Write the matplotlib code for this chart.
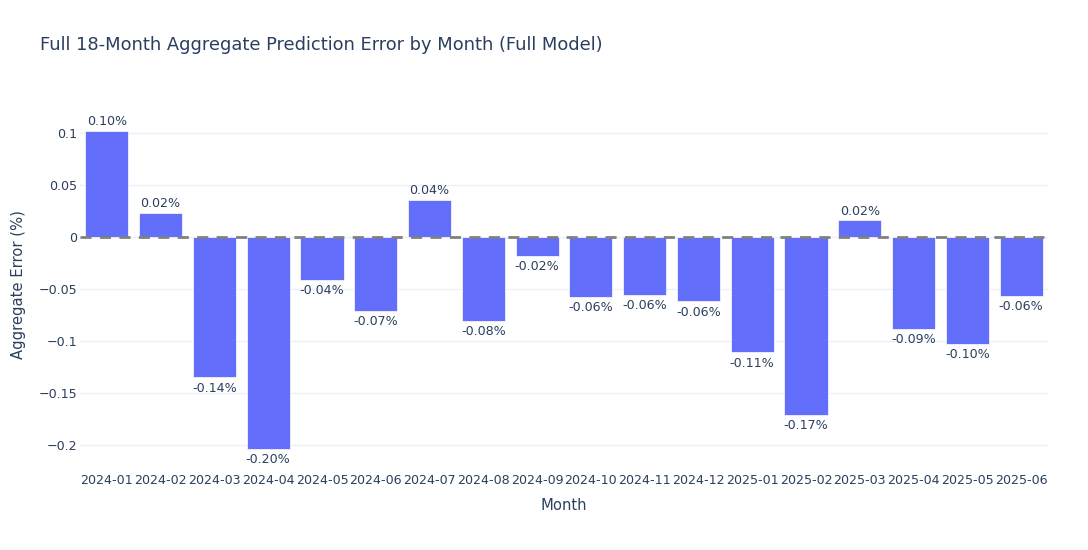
import matplotlib
matplotlib.use("Agg")
import matplotlib.pyplot as plt
from matplotlib.ticker import FixedLocator

months = ["2024-01", "2024-02", "2024-03", "2024-04", "2024-05", "2024-06",
          "2024-07", "2024-08", "2024-09", "2024-10", "2024-11", "2024-12",
          "2025-01", "2025-02", "2025-03", "2025-04", "2025-05", "2025-06"]
errors = [0.102, 0.023, -0.135, -0.204, -0.041, -0.071,
          0.036, -0.081, -0.018, -0.058, -0.056, -0.062,
          -0.111, -0.171, 0.016, -0.088, -0.103, -0.057]
yticks = [0.1, 0.05, 0, -0.05, -0.1, -0.15, -0.2]
ytick_labels = ["0.1", "0.05", "0", "\u22120.05", "\u22120.1", "\u22120.15", "\u22120.2"]

TXT = "#2a3f5f"
BAR = "#636efa"
GRID = "#ebf0f8"
px = 72 / 100 * 1.05

plt.rcParams['font.family'] = ['DejaVu Sans']
fig = plt.figure(figsize=(10.88, 5.5), dpi=100)
ax = fig.add_axes([80 / 1088, 80 / 550, 968 / 1088, 370 / 550])

x = list(range(len(months)))
ax.bar(x, errors, width=0.8, color=BAR, edgecolor="white", linewidth=0.5, zorder=2)
ax.axhline(0, color="#808080", linestyle=(0, (4, 3)), linewidth=2, zorder=3)

for xi, v in zip(x, errors):
    lab = f"{v:.2f}%"
    if v >= 0:
        ax.annotate(lab, (xi, v), xytext=(0, 2), textcoords="offset points",
                    ha="center", va="bottom", fontsize=12 * px, color=TXT)
    else:
        ax.annotate(lab, (xi, v), xytext=(0, -3), textcoords="offset points",
                    ha="center", va="top", fontsize=12 * px, color=TXT)

ax.set_xlim(-0.5, len(months) - 0.5)
ax.set_ylim(-0.224, 0.1317)
ax.set_xticks(x)
ax.set_xticklabels(months)
ax.yaxis.set_major_locator(FixedLocator(yticks))
ax.set_yticklabels(ytick_labels)
ax.tick_params(axis="both", length=0, labelsize=12 * px, labelcolor=TXT)
ax.tick_params(axis="x", pad=3)
ax.tick_params(axis="y", pad=2)
ax.grid(axis="y", color=GRID, linewidth=1, zorder=0)
ax.set_axisbelow(True)
for s in ax.spines.values():
    s.set_visible(False)

ax.set_xlabel("Month", fontsize=14 * px, color=TXT, va="center")
ax.xaxis.set_label_coords(0.5, -(505 - 470) / 370)
ax.set_ylabel("Aggregate Error (%)", fontsize=14 * px, color=TXT, va="center")
ax.yaxis.set_label_coords(-(80 - 18) / 968, 0.5)

fig.text(40 / 1088, 1 - 45 / 550, "Full 18-Month Aggregate Prediction Error by Month (Full Model)",
         fontsize=17 * px, color=TXT, ha="left", va="center")

fig.savefig("out.png", dpi=100, facecolor="white")
